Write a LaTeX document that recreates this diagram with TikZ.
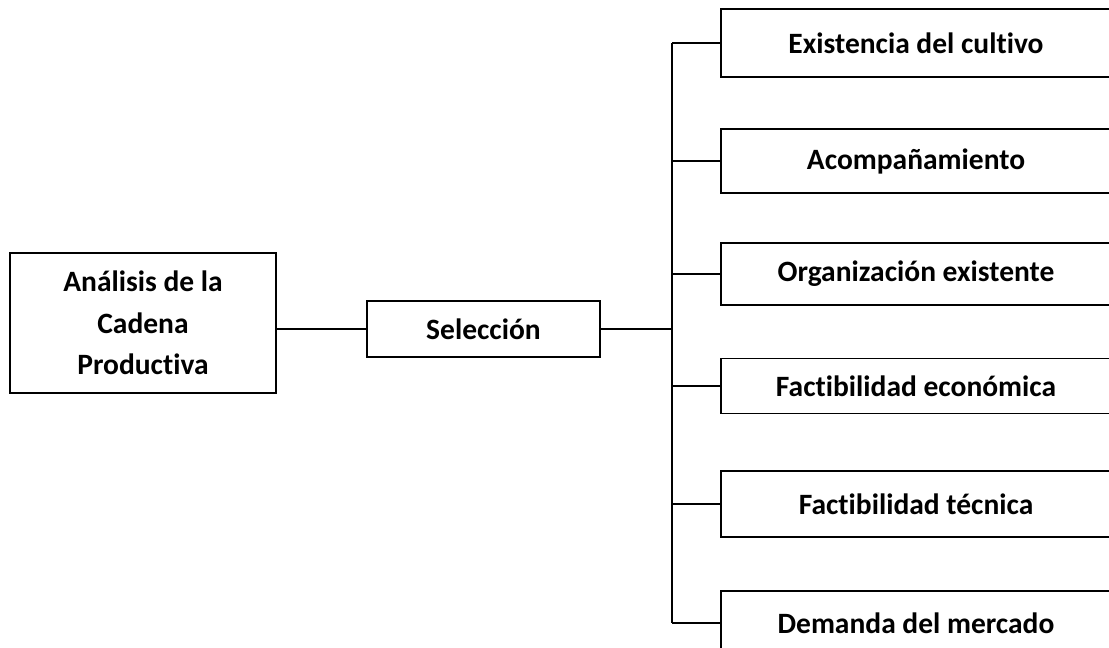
\documentclass[tikz,border=0pt]{standalone}
\usepackage{fontspec}
\setmainfont{Carlito}[Ligatures=NoCommon]
\usepackage{tikz}
\usetikzlibrary{positioning}

\begin{document}
\begin{tikzpicture}[x=1pt, y=-1pt, line width=1.3pt,
  box/.style={draw, rectangle, align=center, inner sep=0pt,
    font=\fontsize{29.5}{41.5}\selectfont\bfseries},
  rbox/.style={box, minimum width=390, anchor=center}]
\path[use as bounding box, clip] (0,0) rectangle (1109,648);
\node[box, minimum width=266, minimum height=140](cad) at (143,323)
  {Análisis de la\\Cadena\\Productiva};
\node[box, minimum width=233, minimum height=56](sel) at (483.5,329) {Selección};
\coordinate (bt) at (672,43);
\coordinate (bb) at (672,623);
\node[rbox, minimum height=68](c1) at (916,43) {Existencia del cultivo};
\node[rbox, minimum height=64](c2) at (916,161) {Acompañamiento};
\node[rbox, minimum height=62](c3) at (916,274) {Organización existente};
\node[rbox, minimum height=55](c4) at (916,386) {Factibilidad económica};
\node[rbox, minimum height=66](c5) at (916,504) {Factibilidad técnica};
\node[rbox, minimum height=64](c6) at (916,623) {Demanda del mercado};
\draw (sel.west) -- (sel.west -| cad.east);
\draw (sel.east) -- (sel.east -| bt);
\draw (bt) -- (bb);
\draw (c1.west) -- (c1.west -| bt);
\draw (c2.west) -- (c2.west -| bt);
\draw (c3.west) -- (c3.west -| bt);
\draw (c4.west) -- (c4.west -| bt);
\draw (c5.west) -- (c5.west -| bt);
\draw (c6.west) -- (c6.west -| bt);
\end{tikzpicture}
\end{document}
